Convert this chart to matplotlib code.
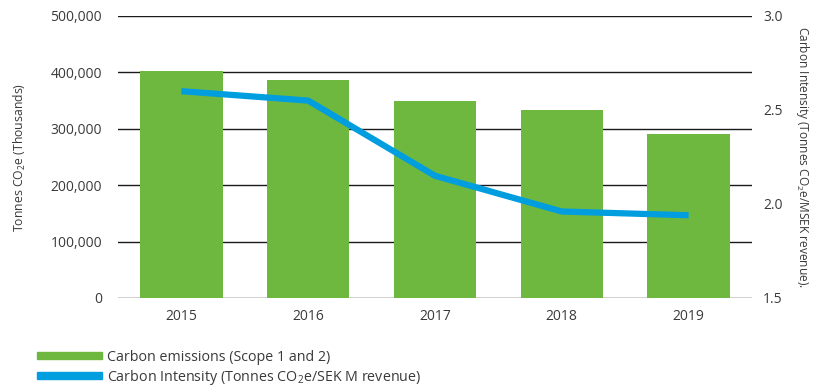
import matplotlib
matplotlib.use("Agg")
import matplotlib.pyplot as plt
from matplotlib.patches import Patch

years = ["2015", "2016", "2017", "2018", "2019"]
emissions = [402000, 386000, 349000, 333000, 291000]
intensity = [2.60, 2.55, 2.15, 1.96, 1.94]
left_ticks = [0, 100000, 200000, 300000, 400000, 500000]
right_ticks = [1.5, 2.0, 2.5, 3.0]

green = "#6fb83f"
blue = "#009ddf"
text_color = "#3a3a3a"

plt.rcParams["font.family"] = ["Open Sans", "DejaVu Sans"]
plt.rcParams["mathtext.default"] = "regular"

fig = plt.figure(figsize=(8.15, 3.88), dpi=100)
ax = fig.add_axes([0.1448, 0.232, 0.7779, 0.7268])
x = list(range(len(years)))
ax.bar(x, emissions, width=0.65, color=green, zorder=2)
ax.set_xlim(-0.5, 4.5)
ax.set_ylim(0, 500000)
ax.set_yticks(left_ticks)
ax.set_yticklabels([f"{v:,}" for v in left_ticks])
for v in left_ticks:
    ax.axhline(v, color="#1a1a1a", lw=1.0, zorder=1)
ax.set_xticks(x)
ax.set_xticklabels(years)
ax.tick_params(axis="both", length=0, labelsize=10, colors=text_color)
ax.tick_params(axis="y", pad=11.5)
ax.tick_params(axis="x", pad=8)
for s in ax.spines.values():
    s.set_visible(False)
ax.set_ylabel("Tonnes CO$_2$e (Thousands)", fontsize=8.8, color=text_color, labelpad=16)

ax2 = ax.twinx()
ax2.set_ylim(1.5, 3.0)
ax2.set_yticks(right_ticks)
ax2.set_yticklabels([f"{v:.1f}" for v in right_ticks])
ax2.tick_params(axis="y", length=0, labelsize=10, colors=text_color, pad=8)
for s in ax2.spines.values():
    s.set_visible(False)
ax2.plot(x, intensity, color=blue, lw=4.5, solid_capstyle="butt", zorder=3)
ax2.set_ylabel("Carbon Intensity (Tonnes CO$_2$e/MSEK revenue).", fontsize=8.6,
               color=text_color, rotation=270, labelpad=20)

handles = [Patch(color=green), Patch(color=blue)]
labels = ["Carbon emissions (Scope 1 and 2)",
          "Carbon Intensity (Tonnes CO$_2$e/SEK M revenue)"]
leg = fig.legend(handles, labels, loc="upper left", bbox_to_anchor=(0.045, 0.098),
                 frameon=False, fontsize=10.3, handlelength=4.6, handleheight=0.4,
                 handletextpad=0.35, labelspacing=0.2, borderpad=0, borderaxespad=0)
for t in leg.get_texts():
    t.set_color(text_color)

fig.savefig("out.png", dpi=100)
